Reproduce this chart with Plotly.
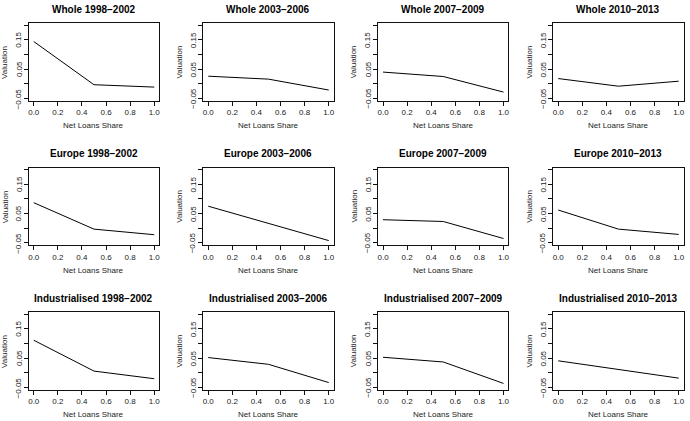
import plotly.graph_objects as go

# ---- data ----
net_loans_share = [0.0, 0.5, 1.0]
regions = ["Whole", "Europe", "Industrialised"]
periods = ["1998−2002", "2003−2006", "2007−2009", "2010−2013"]

whole_valuation = [
    [0.144, -0.003, -0.011],
    [0.026, 0.016, -0.021],
    [0.040, 0.025, -0.028],
    [0.018, -0.008, 0.009],
]
europe_valuation = [
    [0.087, -0.003, -0.022],
    [0.075, 0.017, -0.042],
    [0.029, 0.023, -0.035],
    [0.062, -0.003, -0.021],
]
industrialised_valuation = [
    [0.111, 0.006, -0.020],
    [0.052, 0.029, -0.033],
    [0.053, 0.037, -0.036],
    [0.041, 0.011, -0.018],
]
x_tick_values = [0.0, 0.2, 0.4, 0.6, 0.8, 1.0]
x_tick_labels = ["0.0", "0.2", "0.4", "0.6", "0.8", "1.0"]
y_tick_values = [-0.05, 0.0, 0.05, 0.10, 0.15, 0.20]
y_tick_labels = ["−0.05", "", "0.05", "", "0.15", ""]
x_label = "Net Loans Share"
y_label = "Valuation"

# ---- layout geometry (pixels) ----
W, H = 690, 421
col_left = [28.0, 203.0, 378.3, 554.0]
box_w = 130.5
row_top = [23.3, 167.7, 312.3]
box_h = 77.3

FONT = "Liberation Sans, Arial, Helvetica, sans-serif"
TXT = "#222222"
values = [whole_valuation, europe_valuation, industrialised_valuation]

fig = go.Figure()
annotations = []
layout_axes = {}
idx = 0
for r, region in enumerate(regions):
    for c, period in enumerate(periods):
        idx += 1
        xa = "x" if idx == 1 else f"x{idx}"
        ya = "y" if idx == 1 else f"y{idx}"
        fig.add_trace(go.Scatter(
            x=net_loans_share, y=values[r][c], mode="lines",
            line=dict(color="black", width=1), xaxis=xa, yaxis=ya,
            showlegend=False, hoverinfo="skip"))
        x0 = col_left[c] / W
        x1 = (col_left[c] + box_w) / W
        y1 = 1 - row_top[r] / H
        y0 = 1 - (row_top[r] + box_h) / H
        common = dict(showline=True, mirror=True, linecolor="#111111", linewidth=1,
                      ticks="outside", ticklen=4, tickwidth=1, tickcolor="#111111",
                      showgrid=False, zeroline=False,
                      tickfont=dict(family=FONT, size=8, color=TXT))
        layout_axes["xaxis" if idx == 1 else f"xaxis{idx}"] = dict(
            domain=[x0, x1], range=[-0.04, 1.04], anchor=ya,
            tickvals=x_tick_values, ticktext=x_tick_labels, **common)
        layout_axes["yaxis" if idx == 1 else f"yaxis{idx}"] = dict(
            domain=[y0, y1], range=[-0.057, 0.206], anchor=xa,
            tickvals=y_tick_values, showticklabels=False,
            **common)
        # y tick labels, rotated like R (placed on the axis scale)
        for tv, tl in zip(y_tick_values, y_tick_labels):
            if tl:
                annotations.append(dict(
                    text=tl, xref=f"{xa} domain", yref=ya, x=0, y=tv,
                    xanchor="center", yanchor="middle", xshift=-10, textangle=-90,
                    showarrow=False, font=dict(family=FONT, size=8, color=TXT)))
        cx = (col_left[c] + box_w / 2) / W
        annotations.append(dict(
            text=f"<b>{region} {period}</b>", xref="paper", yref="paper",
            x=cx, y=1 - (row_top[r] - 14) / H, xanchor="center", yanchor="middle",
            showarrow=False, font=dict(family=FONT, size=10, color="black")))
        annotations.append(dict(
            text=x_label, xref="paper", yref="paper",
            x=cx, y=1 - (row_top[r] + box_h + 25) / H, xanchor="center", yanchor="middle",
            showarrow=False, font=dict(family=FONT, size=8, color=TXT)))
        annotations.append(dict(
            text=y_label, xref="paper", yref="paper", textangle=-90,
            x=(col_left[c] - 24) / W, y=1 - (row_top[r] + box_h / 2) / H,
            xanchor="center", yanchor="middle",
            showarrow=False, font=dict(family=FONT, size=8, color=TXT)))

fig.update_layout(
    width=W, height=H, margin=dict(l=0, r=0, t=0, b=0),
    paper_bgcolor="white", plot_bgcolor="white",
    annotations=annotations, **layout_axes)

fig.write_html("out.html")
